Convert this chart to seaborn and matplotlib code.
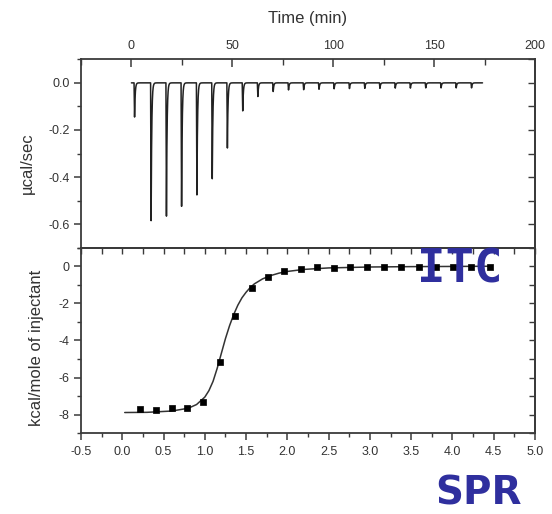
import numpy as np
import pandas as pd
import matplotlib
matplotlib.use("Agg")
import matplotlib.pyplot as plt
import seaborn as sns
from matplotlib.ticker import MultipleLocator, FormatStrFormatter

sns.set_theme(style="ticks")
plt.rcParams["font.family"] = ["Liberation Sans", "DejaVu Sans"]
plt.rcParams["axes.unicode_minus"] = False

# Raw thermogram: injection times (min) and peak heat rate (µcal/sec)
inj_time = [1.3, 9.5, 17.1, 24.6, 32.2, 39.8, 47.3, 54.9, 62.4, 70.0, 77.6, 85.1,
            92.7, 100.2, 107.8, 115.4, 122.9, 130.5, 138.0, 145.6, 153.2, 160.7, 168.3]
inj_peak = [-0.15, -0.605, -0.585, -0.542, -0.492, -0.421, -0.286, -0.123, -0.060,
            -0.038, -0.031, -0.030, -0.028, -0.026, -0.025, -0.024, -0.024, -0.023,
            -0.023, -0.022, -0.022, -0.022, -0.022]
run_end = 174.0

# Integrated heats per injection
molar_ratio = [0.22, 0.41, 0.60, 0.79, 0.98, 1.18, 1.37, 1.57, 1.76, 1.96, 2.16,
               2.36, 2.56, 2.76, 2.96, 3.17, 3.38, 3.59, 3.80, 4.01, 4.22, 4.45]
heat = [-7.69, -7.75, -7.66, -7.61, -7.29, -5.17, -2.68, -1.15, -0.58, -0.26, -0.17,
        -0.05, -0.08, -0.02, -0.02, -0.02, -0.02, -0.02, -0.02, -0.02, -0.02, -0.02]

# Binding-model fit curve
fit_ratio = [0.03, 0.3, 0.6, 0.8, 0.9, 1.0, 1.05, 1.1, 1.15, 1.2, 1.25, 1.3, 1.35,
             1.4, 1.45, 1.5, 1.55, 1.6, 1.7, 1.8, 1.9, 2.0, 2.2, 2.5, 3.0, 3.5, 4.0, 4.45]
fit_heat = [-7.88, -7.87, -7.80, -7.65, -7.45, -7.05, -6.70, -6.20, -5.50, -4.70,
            -3.90, -3.20, -2.60, -2.10, -1.70, -1.40, -1.15, -0.95, -0.68, -0.50,
            -0.37, -0.28, -0.17, -0.09, -0.04, -0.02, -0.01, 0.0]

# Build the power trace: sharp drop at each injection, fast return to baseline
t = np.arange(0.0, run_end, 0.02)
power = np.zeros_like(t)
for ti, hi in zip(inj_time, inj_peak):
    dt = t - ti
    rise = (dt >= 0) & (dt < 0.25)
    power[rise] += hi * dt[rise] / 0.25
    tail = dt >= 0.25
    power[tail] += hi * np.exp(-(dt[tail] - 0.25) / 0.3)
trace = pd.DataFrame({"time": t, "power": power})
points = pd.DataFrame({"ratio": molar_ratio, "heat": heat})
fit = pd.DataFrame({"ratio": fit_ratio, "heat": fit_heat})

ink = "#3a3a3a"
text_c = "#333333"
fig = plt.figure(figsize=(5.52, 5.14), dpi=100)
ax1 = fig.add_axes([0.1467, 0.5181, 0.8225, 0.3665])
ax2 = fig.add_axes([0.1467, 0.157, 0.8225, 0.3611])

sns.lineplot(data=trace, x="time", y="power", ax=ax1, color="#222222",
             lw=1.1, estimator=None, sort=False)
sns.lineplot(data=fit, x="ratio", y="heat", ax=ax2, color="#333333", lw=1.1,
             estimator=None, sort=False)
sns.scatterplot(data=points, x="ratio", y="heat", ax=ax2, marker="s", s=24,
                color="black", edgecolor="black", linewidth=0.5, zorder=3)

# Top panel axes
ax1.set_xlim(-25, 200)
ax1.set_ylim(-0.7, 0.1)
ax1.xaxis.set_major_locator(MultipleLocator(50))
ax1.xaxis.set_minor_locator(MultipleLocator(25))
ax1.yaxis.set_major_locator(MultipleLocator(0.2))
ax1.yaxis.set_minor_locator(MultipleLocator(0.1))
ax1.tick_params(axis="x", which="both", direction="in", top=True, bottom=False,
                labeltop=True, labelbottom=False, color=ink, labelcolor=text_c,
                labelsize=9, pad=5)
ax1.tick_params(axis="x", which="major", length=6, width=1.1)
ax1.tick_params(axis="x", which="minor", length=4, width=1.0)
ax1.tick_params(axis="y", which="both", direction="out", left=True, right=False,
                color=ink, labelcolor=text_c, labelsize=9, pad=3)
ax1.tick_params(axis="y", which="major", length=5, width=1.1)
ax1.tick_params(axis="y", which="minor", length=3, width=1.0)
ax1.yaxis.set_major_formatter(FormatStrFormatter("%.1f"))
r1 = ax1.secondary_yaxis("right")
r1.yaxis.set_major_locator(MultipleLocator(0.1))
r1.tick_params(direction="in", length=5, width=1.0, color=ink, labelright=False)

ax1.xaxis.set_label_position("top")
ax1.set_xlabel("Time (min)", fontsize=12, color=text_c, va="center")
ax1.xaxis.set_label_coords(0.5, (247.7 - 18) / 188.4)
ax1.set_ylabel("µcal/sec", fontsize=12, color=text_c, va="center", ha="center")
ax1.yaxis.set_label_coords((27 - 81) / 454, 0.45)

# Bottom panel axes
ax2.set_xlim(-0.5, 5.0)
ax2.set_ylim(-9, 1)
ax2.xaxis.set_major_locator(MultipleLocator(0.5))
ax2.xaxis.set_minor_locator(MultipleLocator(0.25))
ax2.yaxis.set_major_locator(MultipleLocator(2))
ax2.yaxis.set_minor_locator(MultipleLocator(1))
ax2.xaxis.set_major_formatter(FormatStrFormatter("%.1f"))
ax2.tick_params(axis="both", which="both", direction="out", color=ink,
                labelcolor=text_c, labelsize=9)
ax2.tick_params(axis="x", which="major", length=5, width=1.1, pad=4)
ax2.tick_params(axis="x", which="minor", length=3, width=1.0)
ax2.tick_params(axis="y", which="major", length=5, width=1.1, pad=3)
ax2.tick_params(axis="y", which="minor", length=3, width=1.0)
t2 = ax2.secondary_xaxis("top")
t2.xaxis.set_major_locator(MultipleLocator(0.25))
t2.tick_params(direction="in", length=4, width=1.0, color=ink, labeltop=False)
r2 = ax2.secondary_yaxis("right")
r2.yaxis.set_major_locator(MultipleLocator(1))
r2.tick_params(direction="in", length=4, width=1.0, color=ink, labelright=False)
ax2.set_xlabel("")
ax2.set_ylabel("kcal/mole of injectant", fontsize=12, color=text_c,
               va="center", ha="center")
ax2.yaxis.set_label_coords((37 - 81) / 454, 0.46)

for ax in (ax1, ax2, r1, r2, t2):
    for sp in ax.spines.values():
        sp.set_color(ink)
        sp.set_linewidth(1.3)

# Method tags
fig.text(0.833, 0.474, "ITC", fontsize=34, fontweight="bold",
         family=["DejaVu Sans Mono"], color="#2f2f9e", ha="center", va="center")
fig.text(0.866, 0.040, "SPR", fontsize=28, fontweight="bold",
         family=["DejaVu Sans"], color="#2f2f9e", ha="center", va="center")

fig.savefig("out.png", dpi=100)
